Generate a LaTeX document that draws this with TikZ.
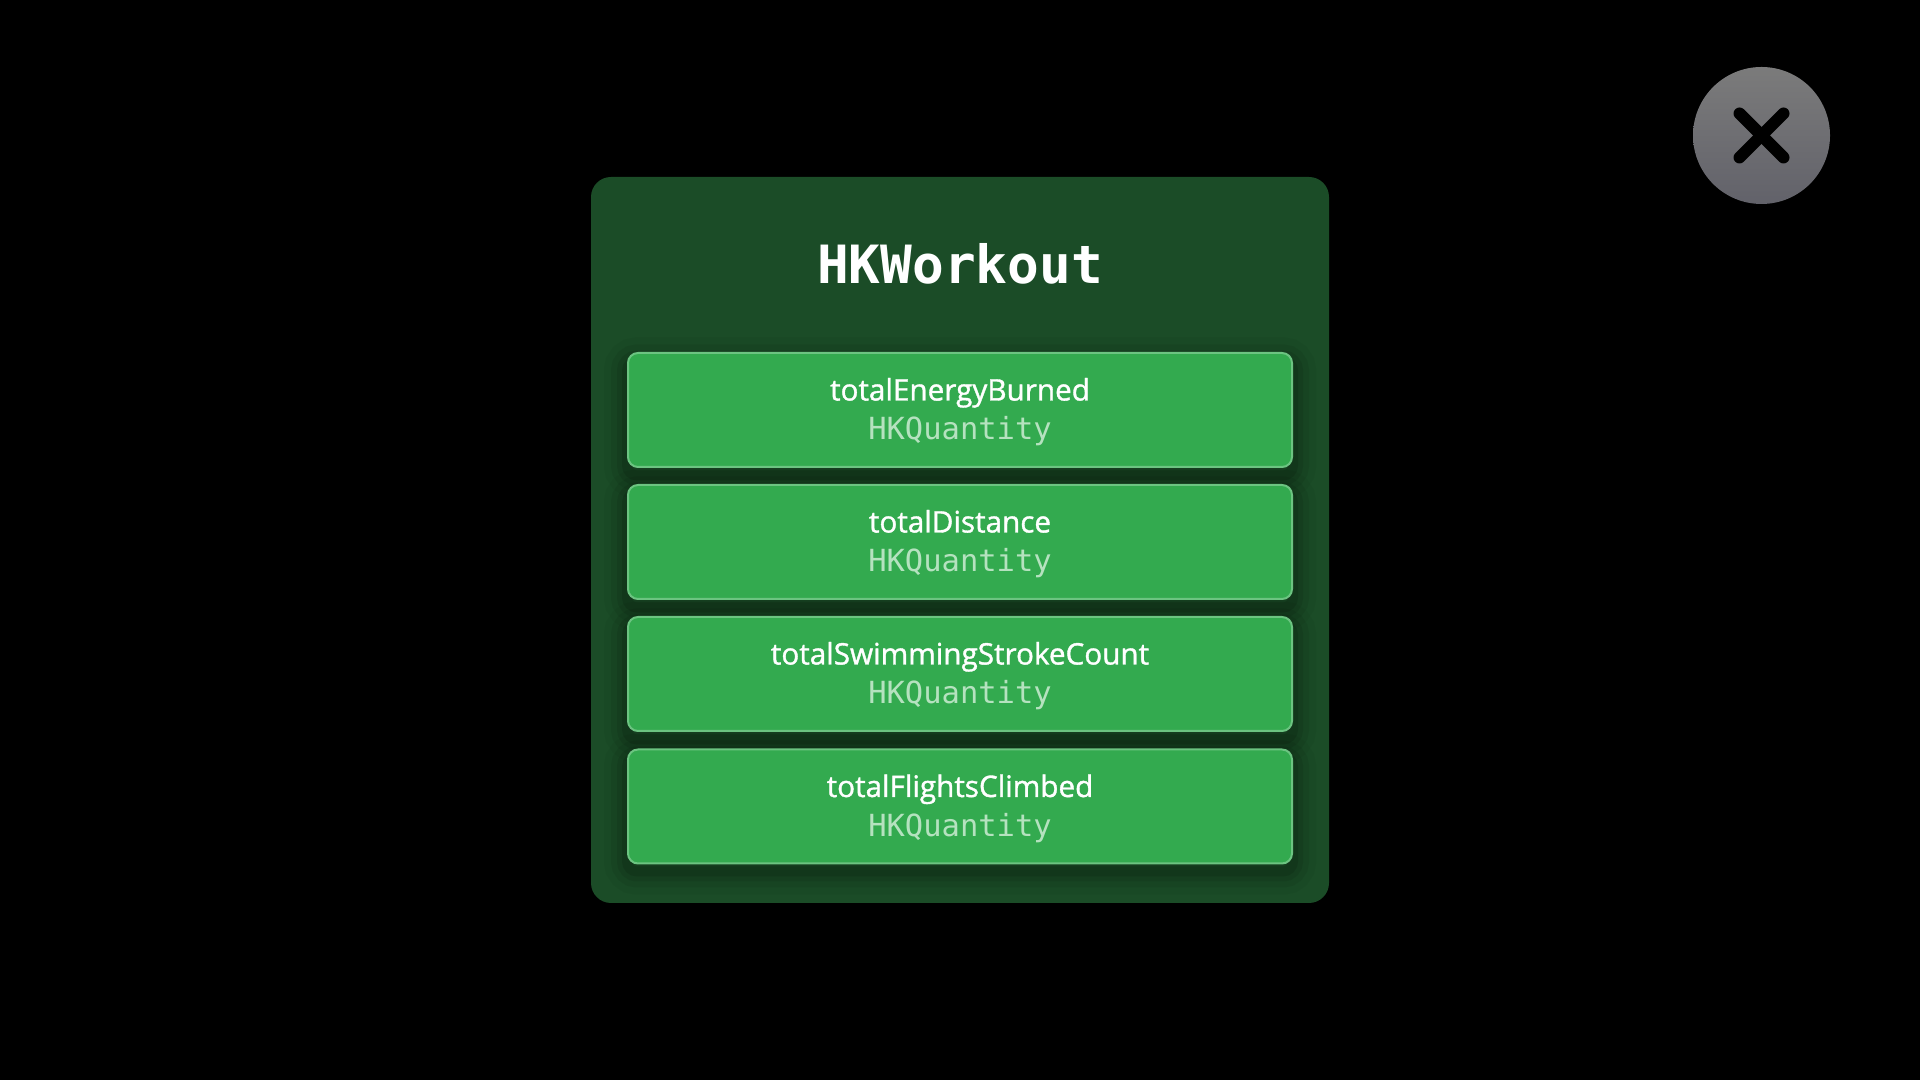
\documentclass[tikz,border=0pt]{standalone}
\usepackage{xcolor}
\usepackage{fontspec}
\setmainfont[FakeBold=1.2]{Open Sans}
\newfontfamily\titlefont{DejaVu Sans Mono}
\newfontfamily\typefont{DejaVu Sans Mono}
\usetikzlibrary{calc}
\definecolor{panelgreen}{HTML}{1B4C27}
\definecolor{fieldgreen}{HTML}{33AA4F}
\definecolor{fieldedge}{HTML}{6CC481}
\definecolor{typegreen}{HTML}{B5E2BF}
\definecolor{closetop}{HTML}{7B7B7B}
\definecolor{closebottom}{HTML}{62626A}
\tikzset{
    panelbox/.style={fill=panelgreen, rounded corners=0.2cm, minimum width=7.38cm, minimum height=7.26cm},
    fieldshadow/.style={minimum width=6.66cm, minimum height=1.15cm, rounded corners=0.1cm,
        preaction={draw=black, line width=0.46cm, opacity=0.04},
        preaction={draw=black, line width=0.32cm, opacity=0.06},
        preaction={draw=black, line width=0.20cm, opacity=0.08},
        preaction={draw=black, line width=0.10cm, opacity=0.10}},
    fieldbox/.style={draw=fieldedge, line width=0.02cm, fill=fieldgreen, rounded corners=0.1cm, minimum width=6.64cm, minimum height=1.14cm,
        align=center, inner sep=0pt, text=white, font=\fontsize{8.44}{11.1}\selectfont},
    closebtn/.style={circle, minimum size=1.37cm, inner sep=0pt, top color=closetop, bottom color=closebottom},
    closemark/.style={black, line width=0.12cm, line cap=round},
}
\newcommand{\fieldname}[1]{\rule{0pt}{7.5pt}#1}
\newcommand{\fieldtype}{\fontsize{8.67}{11.1}\selectfont\typefont\color{typegreen}HKQuantity}
\begin{document}
\begin{tikzpicture}
    \useasboundingbox[fill=black] (0.0, 0.0) rectangle (19.2, 10.8);
    % Close button
    \node[closebtn] (close) at (17.615, 9.445) {};
    \draw[closemark] ($(close)+(-0.22, 0.22)$) -- ($(close)+(0.22,-0.22)$);
    \draw[closemark] ($(close)+(-0.22,-0.22)$) -- ($(close)+(0.22, 0.22)$);
    % Panel
    \node[panelbox] (panel) at (9.6, 5.4) {};
    \node[text=white, font=\fontsize{15}{18}\selectfont\titlefont\bfseries] (title) at (9.6, 8.16) {HKWorkout};
    % Shadows under the fields
    \node[fieldshadow] (shadowA) at (9.6, 6.62) {};
    \node[fieldshadow] (shadowB) at (9.6, 5.30) {};
    \node[fieldshadow] (shadowC) at (9.6, 3.98) {};
    \node[fieldshadow] (shadowD) at (9.6, 2.66) {};
    % Fields
    \node[fieldbox] (energy) at (9.6, 6.70) {\fieldname{totalEnergyBurned}\\\fieldtype};
    \node[fieldbox] (distance) at (9.6, 5.38) {\fieldname{totalDistance}\\\fieldtype};
    \node[fieldbox] (strokes) at (9.6, 4.06) {\fieldname{totalSwimmingStrokeCount}\\\fieldtype};
    \node[fieldbox] (flights) at (9.6, 2.735) {\fieldname{totalFlightsClimbed}\\\fieldtype};
\end{tikzpicture}
\end{document}
